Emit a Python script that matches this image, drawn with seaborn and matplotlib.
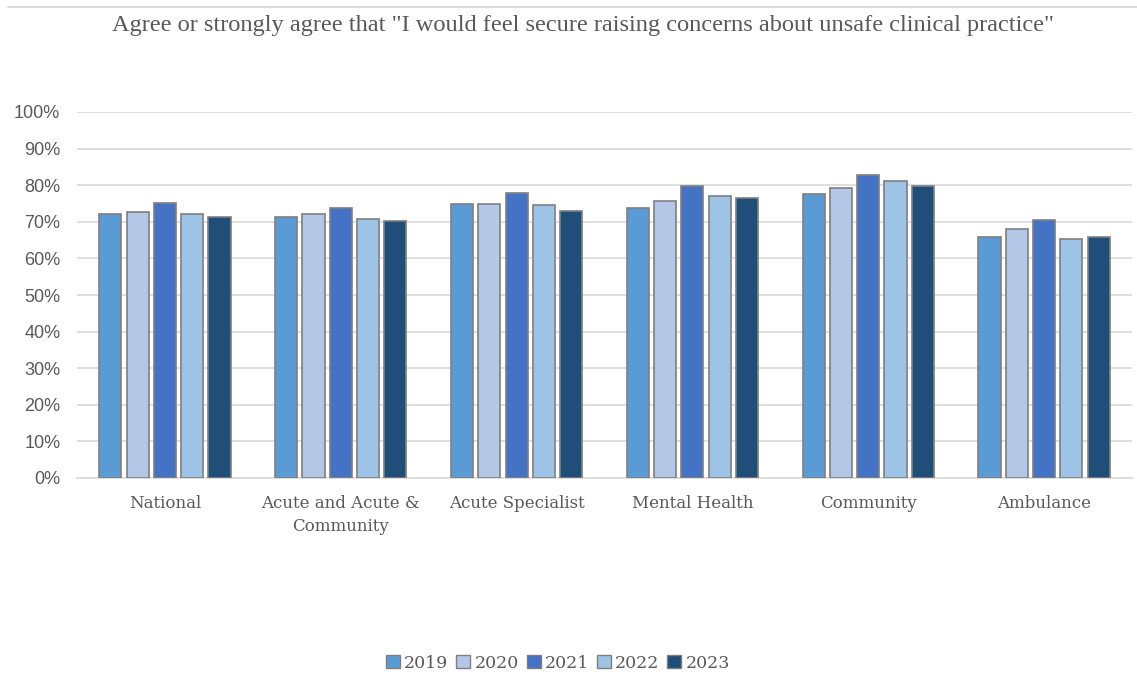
import matplotlib
matplotlib.use("Agg")
import matplotlib.pyplot as plt
import seaborn as sns
import pandas as pd
from matplotlib.ticker import PercentFormatter
from matplotlib.lines import Line2D

categories = ["National", "Acute and Acute &\nCommunity", "Acute Specialist",
              "Mental Health", "Community", "Ambulance"]
years = ["2019", "2020", "2021", "2022", "2023"]
v2019 = [72.0, 71.4, 74.8, 73.8, 77.5, 65.9]
v2020 = [72.8, 72.0, 74.9, 75.6, 79.2, 68.1]
v2021 = [75.2, 73.9, 77.9, 79.7, 82.9, 70.4]
v2022 = [72.0, 70.7, 74.7, 77.0, 81.1, 65.3]
v2023 = [71.3, 70.1, 72.9, 76.4, 79.9, 65.8]
colors = ["#5B9BD5", "#B4C7E7", "#4472C4", "#9DC3E6", "#1F4E79"]

rows = []
for yr, vals in zip(years, [v2019, v2020, v2021, v2022, v2023]):
    for c, v in zip(categories, vals):
        rows.append({"cat": c, "year": yr, "val": v})
df = pd.DataFrame(rows)

sns.set_theme(style="white")
plt.rcParams["font.family"] = ["DejaVu Serif"]
txt = "#595959"

fig = plt.figure(figsize=(11.37, 6.75), dpi=100)
ax = fig.add_axes([77 / 1137, 1 - 478 / 675, (1132 - 77) / 1137, (478 - 112) / 675])

sns.barplot(data=df, x="cat", y="val", hue="year", order=categories, hue_order=years,
            palette=colors, width=0.776, gap=0.19, edgecolor="#7F7F7F", linewidth=1.2,
            saturation=1, ax=ax, legend=False, zorder=3)

ax.set_ylim(0, 100)
ax.set_xlim(-0.5, len(categories) - 0.5)
ax.set_yticks(range(0, 101, 10))
ax.yaxis.set_major_formatter(PercentFormatter(decimals=0))
ax.grid(axis="y", color="#D9D9D9", linewidth=1.2, zorder=0)
ax.grid(axis="x", visible=False)
for s in ["top", "right", "left"]:
    ax.spines[s].set_visible(False)
ax.spines["bottom"].set_color("#D9D9D9")
ax.spines["bottom"].set_linewidth(1.2)
ax.set_xlabel("")
ax.set_ylabel("")
ax.tick_params(axis="both", length=0, colors=txt)
ax.tick_params(axis="y", pad=12)
ax.tick_params(axis="x", pad=12)
for lbl in ax.get_yticklabels():
    lbl.set_fontfamily("Liberation Sans")
    lbl.set_fontsize(13)
for lbl in ax.get_xticklabels():
    lbl.set_fontfamily("DejaVu Serif")
    lbl.set_fontsize(12)
    lbl.set_linespacing(1.45)

fig.text(583 / 1137, 1 - 25 / 675, "Agree or strongly agree that \"I would feel secure raising concerns about unsafe clinical practice\"",
         ha="center", va="center", fontsize=17.6, color=txt, family="Liberation Serif")
fig.add_artist(Line2D([8 / 1137, 1], [1 - 7 / 675, 1 - 7 / 675], color="#D9D9D9", linewidth=1.5))

handles = [plt.Rectangle((0, 0), 1, 1, facecolor=c, edgecolor="#7F7F7F", linewidth=1) for c in colors]
fig.legend(handles, years, loc="center", bbox_to_anchor=(558 / 1137, 1 - 663 / 675), ncol=5, frameon=False,
           fontsize=12.5, handlelength=0.8, handleheight=0.8, handletextpad=0.25, columnspacing=0.45,
           labelcolor=txt)

fig.savefig("out.png", dpi=100)
